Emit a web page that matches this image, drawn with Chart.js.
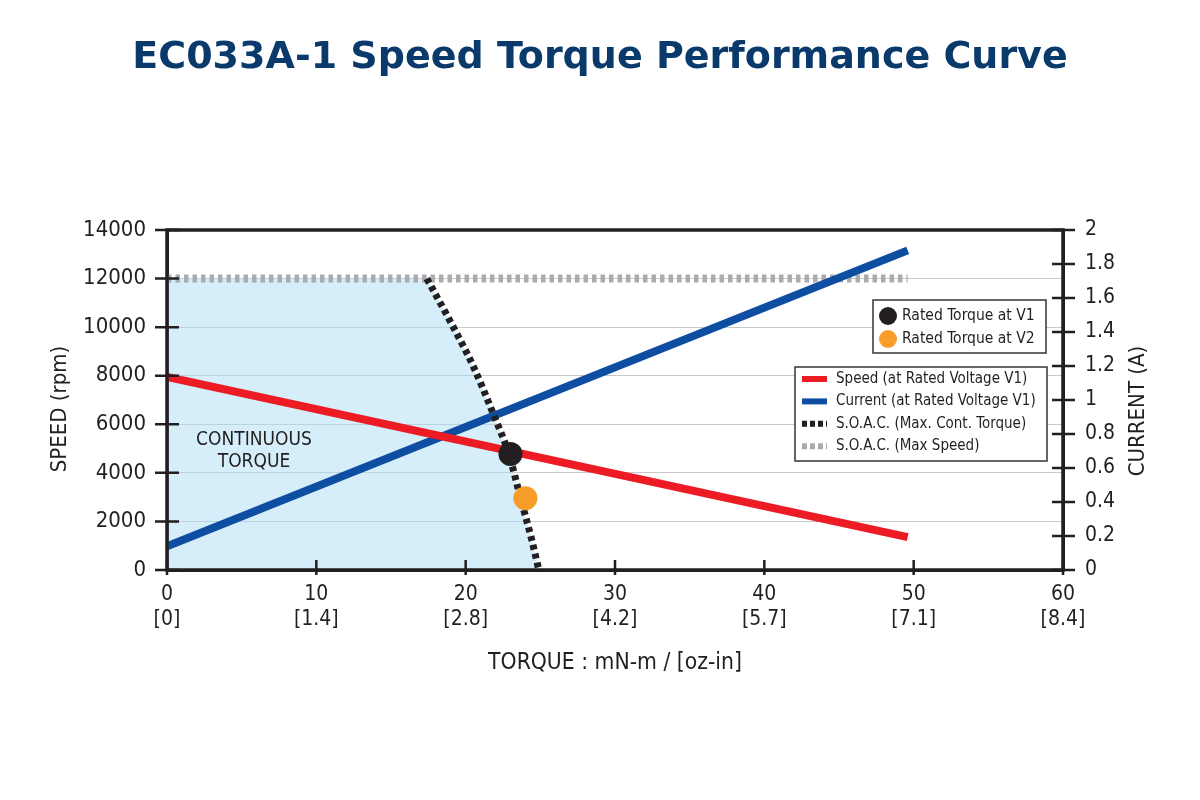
<!DOCTYPE html>
<html>
<head>
<meta charset="utf-8">
<title>EC033A-1 Speed Torque Performance Curve</title>
<script src="https://cdn.jsdelivr.net/npm/chart.js@4.4.1/dist/chart.umd.min.js"></script>
<style>
html,body{margin:0;padding:0;background:#fff}
canvas{display:block}
</style>
</head>
<body>
<canvas id="chart" width="1200" height="800"></canvas>
<script>
// ---- data ----
const torqueTicks=[0,10,20,30,40,50,60];
const ozTicks=['0','1.4','2.8','4.2','5.7','7.1','8.4'];

const speedTorque=[0,49.6];      // mN-m
const speedRpm=[7950,1350];      // rpm @ rated V1
const currentTorque=[0,49.6];
const currentAmp=[0.14,1.88];    // A @ rated V1

const maxSpeedTorque=[0,49.6];
const maxSpeedRpm=[12000,12000];

const soacTorque=[17.4,19.0,20.5,21.8,22.9,23.7,24.4,24.9];
const soacRpm=[12000,10200,8400,6500,4750,2900,1300,0];

// continuous region = flat top from 0 then down the S.O.A.C. curve
const contTorque=[0].concat(soacTorque);
const contRpm=[12000].concat(soacRpm);

const ratedV1=[23.0,4780];
const ratedV2=[24.0,2950];

const legendMarkers=['Rated Torque at V1','Rated Torque at V2'];
const legendLines=['Speed (at Rated Voltage V1)','Current (at Rated Voltage V1)','S.O.A.C. (Max. Cont. Torque)','S.O.A.C. (Max Speed)'];

const RED='#ed1c24',BLUE='#0d4ea2',BLACK='#231f20',GREY='#a9abae',ORANGE='#f89c2a';
const AREA='rgba(171,221,245,0.5)';
const NARROW="'Liberation Sans Narrow','DejaVu Sans Condensed',sans-serif";

const pts=(xs,ys)=>xs.map((x,i)=>({x,y:ys[i]}));

// frame, crossing tick marks, axis titles, region label and the two legend boxes
const decor={id:'decor',afterDatasetsDraw(chart){
  const{ctx,chartArea:{left,right,top,bottom},scales:{x,y,y2}}=chart;
  ctx.save();
  ctx.strokeStyle=BLACK;ctx.lineWidth=2.5;ctx.beginPath();
  y.ticks.forEach(t=>{const p=y.getPixelForValue(t.value);ctx.moveTo(left-12,p);ctx.lineTo(left+12,p);});
  y2.ticks.forEach(t=>{const p=y2.getPixelForValue(t.value);ctx.moveTo(right-11,p);ctx.lineTo(right+12,p);});
  x.ticks.forEach(t=>{const p=x.getPixelForValue(t.value);ctx.moveTo(p,bottom+5);ctx.lineTo(p,bottom-10);});
  ctx.stroke();
  ctx.lineWidth=3.5;ctx.strokeRect(left,top,right-left,bottom-top);

  ctx.fillStyle=BLACK;ctx.textAlign='center';ctx.textBaseline='middle';
  ctx.font='19px '+NARROW;
  ctx.fillText('CONTINUOUS',left+87,top+210);
  ctx.fillText('TORQUE',left+87,top+232);

  // legend 1: markers
  ctx.font='15.5px '+NARROW;ctx.textAlign='left';
  let bx=right-190,by=top+70;
  ctx.fillStyle='#fff';ctx.fillRect(bx,by,173,53);
  ctx.lineWidth=1.5;ctx.strokeStyle='#333';ctx.strokeRect(bx,by,173,53);
  [BLACK,ORANGE].forEach((c,i)=>{
    const cy=by+16+i*23;
    ctx.fillStyle=c;ctx.beginPath();ctx.arc(bx+15,cy,9,0,Math.PI*2);ctx.fill();
    ctx.fillStyle=BLACK;ctx.fillText(legendMarkers[i],bx+29,cy);
  });

  // legend 2: lines
  ctx.font='15px '+NARROW;
  bx=right-268;by=top+137;
  ctx.fillStyle='#fff';ctx.fillRect(bx,by,252,94);
  ctx.strokeStyle='#333';ctx.lineWidth=1.5;ctx.strokeRect(bx,by,252,94);
  const sw=[{c:RED,d:[]},{c:BLUE,d:[]},{c:BLACK,d:[5,3]},{c:GREY,d:[5,3]}];
  sw.forEach((s,i)=>{
    const cy=by+12+i*22.4;
    ctx.strokeStyle=s.c;ctx.lineWidth=6;ctx.setLineDash(s.d);
    ctx.beginPath();ctx.moveTo(bx+7,cy);ctx.lineTo(bx+32,cy);ctx.stroke();
    ctx.setLineDash([]);
    ctx.fillStyle=BLACK;ctx.fillText(legendLines[i],bx+41,cy);
  });

  // both vertical axis titles read bottom-to-top
  ctx.textAlign='center';ctx.font='22px '+NARROW;ctx.fillStyle=BLACK;
  [['SPEED (rpm)',60,409],['CURRENT (A)',right+75,411]].forEach(([t,tx,ty])=>{
    ctx.save();ctx.translate(tx,ty);ctx.rotate(-Math.PI/2);ctx.fillText(t,0,0);ctx.restore();
  });
  ctx.restore();
}};

new Chart(document.getElementById('chart'),{
  type:'scatter',
  data:{datasets:[
    {label:'Continuous Torque',data:pts(contTorque,contRpm),showLine:true,borderWidth:0,pointRadius:0,fill:'origin',backgroundColor:AREA,order:12},
    {label:'S.O.A.C. (Max Speed)',data:pts(maxSpeedTorque,maxSpeedRpm),showLine:true,borderColor:GREY,borderWidth:8,borderDash:[4.5,4],borderCapStyle:'butt',pointRadius:0,order:10},
    {label:'Current',data:pts(currentTorque,currentAmp),yAxisID:'y2',showLine:true,borderColor:BLUE,borderWidth:8,pointRadius:0,order:8},
    {label:'Speed',data:pts(speedTorque,speedRpm),showLine:true,borderColor:RED,borderWidth:8,pointRadius:0,order:7},
    {label:'S.O.A.C. (Max. Cont. Torque)',data:pts(soacTorque,soacRpm),showLine:true,cubicInterpolationMode:'monotone',borderColor:BLACK,borderWidth:7,borderDash:[5,4],borderCapStyle:'butt',pointRadius:0,order:6},
    {label:'Rated Torque at V2',data:[{x:ratedV2[0],y:ratedV2[1]}],pointRadius:12,pointBackgroundColor:ORANGE,pointBorderWidth:0,order:2},
    {label:'Rated Torque at V1',data:[{x:ratedV1[0],y:ratedV1[1]}],pointRadius:12,pointBackgroundColor:BLACK,pointBorderWidth:0,order:1}
  ]},
  options:{
    responsive:false,animation:false,
    layout:{padding:0},
    plugins:{
      legend:{display:false},tooltip:{enabled:false},
      title:{display:true,text:'EC033A-1 Speed Torque Performance Curve',color:'#0a3a6b',
        font:{family:"'DejaVu Sans',sans-serif",size:38,weight:'bold'},padding:{top:35,bottom:149.4}}
    },
    scales:{
      x:{type:'linear',min:0,max:60,
        afterFit(s){s.height=230;},
        ticks:{stepSize:10,padding:12,color:BLACK,font:{family:NARROW,size:21},
          callback:v=>[String(v),'['+ozTicks[torqueTicks.indexOf(v)]+']']},
        grid:{display:false,drawTicks:false},border:{color:BLACK,width:3},
        title:{display:true,text:'TORQUE : mN-m / [oz-in]',color:BLACK,font:{family:NARROW,size:22.7},padding:{bottom:123}}},
      y:{min:0,max:14000,position:'left',
        afterFit(s){s.width=167;},
        ticks:{stepSize:2000,padding:21,color:BLACK,font:{family:NARROW,size:22},callback:v=>String(v)},
        grid:{color:'#c8c8c8',lineWidth:1,drawTicks:false},border:{color:BLACK,width:3}},
      y2:{min:0,max:2,position:'right',
        afterFit(s){s.width=137;},
        ticks:{stepSize:0.2,padding:22,color:BLACK,font:{family:NARROW,size:21},callback:v=>String(parseFloat(v.toFixed(1)))},
        grid:{display:false,drawTicks:false},border:{color:BLACK,width:3}}
    }
  },
  plugins:[decor]
});
</script>
</body>
</html>
